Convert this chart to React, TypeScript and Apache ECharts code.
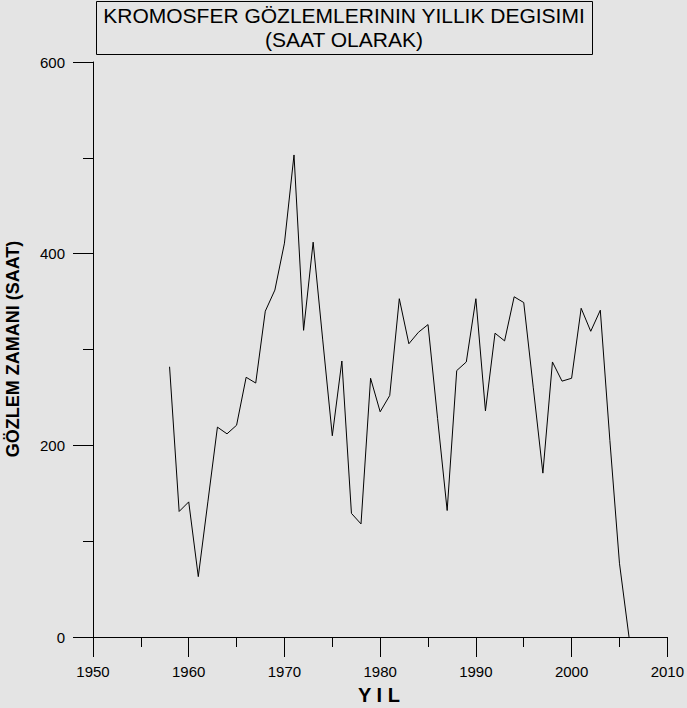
import React, { useEffect, useRef } from "react";
import * as echarts from "echarts";

const years: number[] = [
  1958, 1959, 1960, 1961, 1962, 1963, 1964, 1965, 1966, 1967, 1968, 1969,
  1970, 1971, 1972, 1973, 1974, 1975, 1976, 1977, 1978, 1979, 1980, 1981,
  1982, 1983, 1984, 1985, 1986, 1987, 1988, 1989, 1990, 1991, 1992, 1993,
  1994, 1995, 1996, 1997, 1998, 1999, 2000, 2001, 2002, 2003, 2004, 2005, 2006,
];
const hours: number[] = [
  282, 131, 141, 63, 141, 219, 212, 221, 271, 265, 340, 362,
  411, 503, 320, 412, 310, 210, 288, 129, 118, 270, 235, 252,
  353, 306, 318, 326, 228, 132, 278, 287, 353, 236, 317, 309,
  355, 349, 260, 171, 287, 267, 270, 343, 319, 341, 205, 77, 0,
];
const titleLines: string[] = ["KROMOSFER GÖZLEMLERININ YILLIK DEGISIMI", "(SAAT OLARAK)"];
const yAxisTitle = "GÖZLEM ZAMANI (SAAT)";
const xAxisTitle = "Y I L";

const BG = "#e4e4e4";
const FONT = "Liberation Sans";

export default function App() {
  const ref = useRef<HTMLDivElement>(null);
  useEffect(() => {
    if (!ref.current) return;
    const chart = echarts.init(ref.current, null, { renderer: "svg" });
    const data = years.map((y, i) => [y, hours[i]]);
    chart.setOption({
      animation: false,
      backgroundColor: BG,
      textStyle: { fontFamily: FONT },
      grid: { left: 93, top: 62, width: 575, height: 575, containLabel: false },
      xAxis: {
        type: "value",
        min: 1950,
        max: 2010,
        interval: 10,
        axisLine: { show: true, onZero: false, lineStyle: { color: "#000", width: 1 } },
        axisTick: { show: true, inside: false, length: 20, lineStyle: { color: "#000" } },
        minorTick: { show: true, splitNumber: 2, length: 10, lineStyle: { color: "#000" } },
        splitLine: { show: false },
        axisLabel: {
          color: "#000",
          fontSize: 15,
          margin: 27,
          fontFamily: FONT,
          formatter: (v: number) => String(v),
        },
      },
      yAxis: {
        type: "value",
        min: 0,
        max: 600,
        interval: 200,
        axisLine: { show: true, lineStyle: { color: "#000", width: 1 } },
        axisTick: { show: true, inside: false, length: 20, lineStyle: { color: "#000" } },
        minorTick: { show: true, splitNumber: 2, length: 10, lineStyle: { color: "#000" } },
        splitLine: { show: false },
        axisLabel: {
          color: "#000",
          fontSize: 15,
          margin: 28,
          fontFamily: FONT,
          formatter: (v: number) => String(v),
        },
      },
      series: [
        {
          type: "line",
          data,
          symbol: "none",
          lineStyle: { color: "#000", width: 1 },
          silent: true,
        },
      ],
      graphic: [
        {
          type: "rect",
          shape: { x: 96.5, y: 1.5, width: 496, height: 53 },
          style: { fill: BG, stroke: "#000", lineWidth: 1 },
        },
        {
          type: "text",
          x: 344,
          y: 15,
          style: {
            text: titleLines[0],
            fill: "#000",
            font: "21px " + FONT,
            textAlign: "center",
            textVerticalAlign: "middle",
          },
        },
        {
          type: "text",
          x: 344,
          y: 39,
          style: {
            text: titleLines[1],
            fill: "#000",
            font: "21px " + FONT,
            textAlign: "center",
            textVerticalAlign: "middle",
          },
        },
        {
          type: "text",
          x: 13,
          y: 349,
          rotation: Math.PI / 2,
          style: {
            text: yAxisTitle,
            fill: "#000",
            font: "bold 18px " + FONT,
            textAlign: "center",
            textVerticalAlign: "middle",
          },
        },
        {
          type: "text",
          x: 379,
          y: 695,
          style: {
            text: xAxisTitle,
            fill: "#000",
            font: "bold 20px " + FONT,
            textAlign: "center",
            textVerticalAlign: "middle",
          },
        },
      ],
    });
    return () => chart.dispose();
  }, []);
  return (
    <div
      ref={ref}
      style={{ position: "absolute", left: 0, top: 0, width: 687, height: 708, background: BG }}
    />
  );
}
